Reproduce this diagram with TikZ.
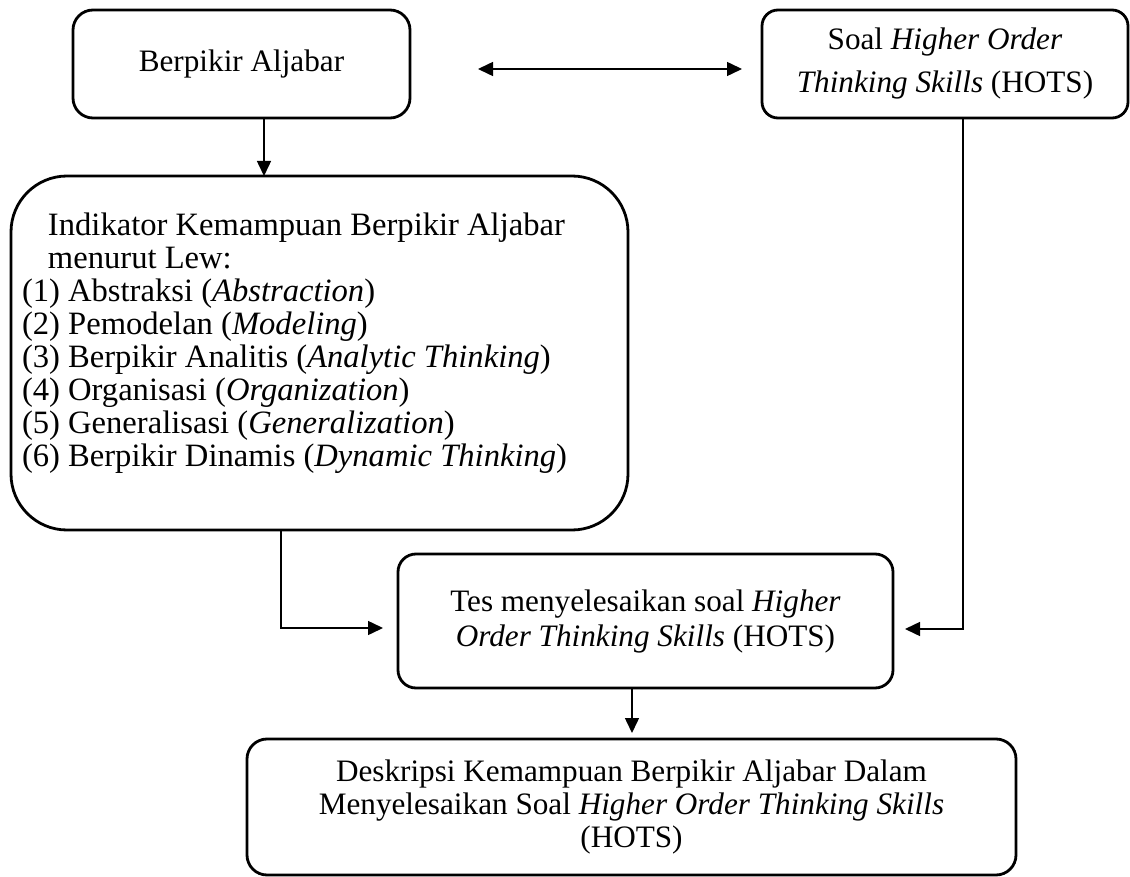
\documentclass[tikz,border=0pt]{standalone}
\usepackage{fontspec}
\setmainfont{Liberation Serif}
\usetikzlibrary{arrows.meta}

\begin{document}
\fontsize{15.6pt}{16.5pt}\selectfont
\begin{tikzpicture}[x=0.5pt, y=-0.5pt, inner sep=0, outer sep=0,
    >={Triangle[length=7.5pt, width=7pt]},
    box/.style={rectangle, draw=black, line width=1.4pt, align=center},
    link/.style={->, draw=black, line width=0.75pt}]
  \useasboundingbox (0, 0) rectangle (1130, 877);

  \node[box,
    rounded corners = 10pt,
    minimum height = 54pt,
    minimum width = 168.5pt] (box1) at (241.5, 64) {\raisebox{-2pt}{Berpikir Aljabar}};

  \node[box,
    rounded corners = 8pt,
    minimum height = 54pt,
    minimum width = 183pt] (box2) at (945, 64) {Soal \textit{Higher Order}\\[5pt]\textit{Thinking Skills} (HOTS)};

  \node[box,
    rounded corners = 28pt,
    minimum height = 177pt,
    minimum width = 308.5pt] (box3) at (319.5, 353) {};
  \node[align=left,
    font=\fontsize{16.3pt}{16.5pt}\selectfont,
    anchor=north west] (box3-text) at (22, 213) {\hspace*{13pt}Indikator Kemampuan Berpikir Aljabar\\
    \hspace*{13pt}menurut Lew:\\
    (1) Abstraksi (\textit{Abstraction})\\
    (2) Pemodelan (\textit{Modeling})\\
    (3) Berpikir Analitis (\textit{Analytic Thinking})\\
    (4) Organisasi (\textit{Organization})\\
    (5) Generalisasi (\textit{Generalization})\\
    (6) Berpikir Dinamis (\textit{Dynamic Thinking})};

  \node[box,
    rounded corners = 9pt,
    minimum height = 67pt,
    minimum width = 247.5pt] (box4) at (645.5, 621) {Tes menyelesaikan soal \textit{Higher}\\[1pt]\textit{Order Thinking Skills} (HOTS)};

  \node[box,
    rounded corners = 10pt,
    minimum height = 68pt,
    minimum width = 384.5pt] (box5) at (631.5, 807) {Deskripsi Kemampuan Berpikir Aljabar Dalam\\Menyelesaikan Soal \textit{Higher Order Thinking Skills}\\(HOTS)};

  \draw[link, <->, shorten <=34pt, shorten >=10pt] ([yshift=-2.5pt]box1.east) -- ([yshift=-2.5pt]box2.west);
  \draw[link] ([xshift=11.25pt]box1.south) -- ([xshift=11.25pt]box1.south |- box3.north);

  \coordinate (cross1) at ([xshift=-19.25pt]box3.south |- 0, 628);
  \coordinate (cross2) at ([xshift=9pt]box2.south |- 0, 629);
  \draw[link] ([xshift=-19.25pt]box3.south) -- (cross1) -- ([xshift=-7.5pt]box4.west |- cross1);
  \draw[link] ([xshift=9pt]box2.south) -- (cross2) -- ([xshift=6pt]box4.east |- cross2);

  \draw[link, shorten >=3pt] ([xshift=-6.75pt]box4.south) -- ([xshift=-6.75pt]box4.south |- box5.north);
\end{tikzpicture}
\end{document}
